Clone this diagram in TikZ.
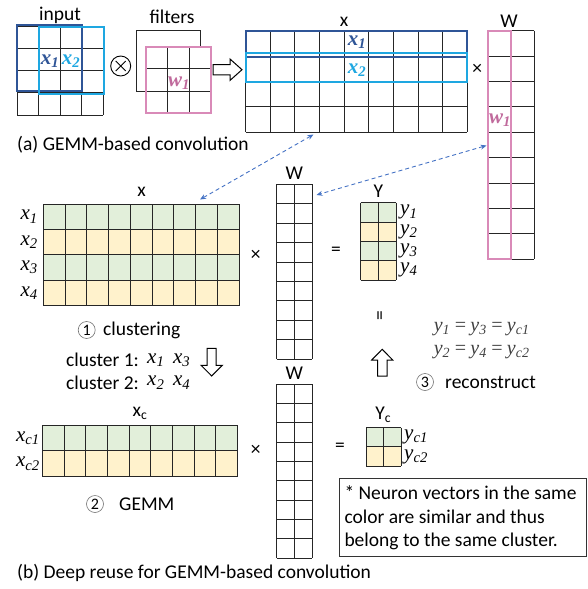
\documentclass[tikz,border=0pt]{standalone}
\usepackage{fontspec}
\setmainfont{Carlito}
\newfontfamily\tnr{Liberation Serif}
\usetikzlibrary{arrows.meta}
\definecolor{cgreen}{HTML}{E2EFDA}
\definecolor{cyellow}{HTML}{FFF2CC}
\definecolor{dblue}{HTML}{2F5597}
\definecolor{lblue}{HTML}{1EA7E1}
\definecolor{pinkc}{HTML}{D98AB8}
\definecolor{wpink}{HTML}{C06A9C}
\definecolor{arrowblue}{HTML}{4472C4}
\definecolor{eqgray}{HTML}{404040}
\newcommand\mgrid[6]{%
  \pgfmathsetmacro\gcw{(#3)/(#5)}%
  \pgfmathsetmacro\grh{(#4)/(#6)}%
  \foreach \k in {0,...,#5} {\draw[gridl] ({#1+\k*\gcw},#2) -- ++(0,#4);}%
  \foreach \k in {0,...,#6} {\draw[gridl] (#1,{#2+\k*\grh}) -- ++(#3,0);}%
}
\tikzset{
  gridl/.style={line width=1pt, draw=black!85},
  lab/.style={inner sep=0pt, font=\fontsize{19.5}{23}\selectfont},
  mlab/.style={inner sep=0pt, font=\fontsize{21}{24}\selectfont\tnr\itshape},
  eqlab/.style={inner sep=0pt, text=eqgray, font=\fontsize{20}{24}\selectfont\tnr\itshape},
  cnum/.style={circle, draw=black!55, line width=0.6pt, minimum size=17pt, inner sep=0pt, font=\fontsize{16}{18}\selectfont},
  dasharr/.style={draw=arrowblue, line width=0.9pt, dash pattern=on 4pt off 3pt, {Stealth[length=6pt,width=5pt]}-{Stealth[length=6pt,width=5pt]}},
  hollow/.style={draw=black, line width=1pt, fill=white},
}
\begin{document}
\begin{tikzpicture}[x=1pt,y=-1pt]
\useasboundingbox (0,0) rectangle (587,589);

% ---------------- (a) ----------------
\node[lab] (inputlab) at (60,15) {input};
\mgrid{17.3}{26}{86}{89}{4}{4}
\draw[draw=dblue, line width=2pt] (16.7,25) rectangle (81.7,90.7);
\draw[draw=lblue, line width=2pt] (39.3,26.7) rectangle (104,94);
\node[inner sep=0pt, text=dblue, font=\fontsize{21}{24}\selectfont\tnr\bfseries\itshape] (ix1) at (50,61) {x\textsubscript{1}};
\node[inner sep=0pt, text=lblue, font=\fontsize{21}{24}\selectfont\tnr\bfseries\itshape] (ix2) at (71,61) {x\textsubscript{2}};

\node[circle, draw=black, line width=0.9pt, minimum size=20pt, inner sep=0pt] (otimes) at (120.7,66) {};
\draw[line width=0.9pt] (otimes.center) ++(-5,-5) -- ++(10,10);
\draw[line width=0.9pt] (otimes.center) ++(-5,5) -- ++(10,-10);

\node[lab] (filtlab) at (172,17) {filters};
\draw[line width=1pt, draw=black!85] (136.7,30) rectangle (200.7,91.7);
\fill[white] (145.7,46.7) rectangle (211,113.3);
\mgrid{145.7}{46.7}{65.3}{66.6}{3}{3}
\draw[draw=pinkc, line width=2pt] (145.7,46.7) rectangle (211,113.3);
\node[inner sep=0pt, text=wpink, font=\fontsize{21}{24}\selectfont\tnr\bfseries\itshape] (fw1) at (179,83) {w\textsubscript{1}};

\draw[hollow] (213,64.5) -- (230,64.5) -- (230,59) -- (242,69.7) -- (230,80.4) -- (230,74.9) -- (213,74.9) -- cycle;

\node[lab] (xtoplab) at (344,22) {x};
\mgrid{245.7}{30.7}{221.6}{101.6}{9}{4}
\draw[draw=dblue, line width=2pt] (245.7,30.7) rectangle (467.3,56.7);
\draw[draw=lblue, line width=2pt] (245.7,53.3) rectangle (467.3,81.7);
\node[inner sep=0pt, text=dblue, font=\fontsize{21}{24}\selectfont\tnr\bfseries\itshape] (tx1) at (357,42.5) {x\textsubscript{1}};
\node[inner sep=0pt, text=lblue, font=\fontsize{21}{24}\selectfont\tnr\bfseries\itshape] (tx2) at (357,70) {x\textsubscript{2}};
\node[lab] (timesa) at (477.3,69) {×};

\node[lab] (wtoplab) at (509,21) {W};
\mgrid{487.7}{30.7}{46.3}{228.6}{2}{9}
\draw[draw=pinkc, line width=2pt] (487.7,30.7) rectangle (511.3,259.3);
\node[inner sep=0pt, text=wpink, font=\fontsize{21}{24}\selectfont\tnr\bfseries\itshape] (tw1) at (500,120) {w\textsubscript{1}};

\node[lab, anchor=west] (capa) at (17,145) {(a) GEMM-based convolution};

% ---------------- (b) ----------------
\node[lab] (xblab) at (141.7,192) {x};
\fill[cgreen] (43.3,204) rectangle (239,229.4);
\fill[cyellow] (43.3,229.4) rectangle (239,254.9);
\fill[cgreen] (43.3,254.9) rectangle (239,280.3);
\fill[cyellow] (43.3,280.3) rectangle (239,305.7);
\mgrid{43.3}{204}{195.7}{101.7}{9}{4}
\node[mlab, anchor=east] (rx1) at (38,216.7) {x\textsubscript{1}};
\node[mlab, anchor=east] (rx2) at (38,242.1) {x\textsubscript{2}};
\node[mlab, anchor=east] (rx3) at (38,267.5) {x\textsubscript{3}};
\node[mlab, anchor=east] (rx4) at (38,292.9) {x\textsubscript{4}};
\node[lab] (timesb) at (255.7,255) {×};

\node[lab] (wm1lab) at (294.3,173) {W};
\mgrid{276.7}{184.3}{35.6}{175}{2}{9}
\node[lab] (eq1) at (336,251) {=};

\node[lab] (ylab) at (378.3,191) {Y};
\fill[cgreen] (360.7,202.7) rectangle (396,222);
\fill[cyellow] (360.7,222) rectangle (396,241.3);
\fill[cgreen] (360.7,241.3) rectangle (396,260.7);
\fill[cyellow] (360.7,260.7) rectangle (396,280);
\mgrid{360.7}{202.7}{35.3}{77.3}{2}{4}
\node[mlab, anchor=west] (ry1) at (400,212.4) {y\textsubscript{1}};
\node[mlab, anchor=west] (ry2) at (400,231.7) {y\textsubscript{2}};
\node[mlab, anchor=west] (ry3) at (400,251) {y\textsubscript{3}};
\node[mlab, anchor=west] (ry4) at (400,270.3) {y\textsubscript{4}};

\node[lab, rotate=90] (veq) at (381.7,316) {=};
\draw[hollow] (377.5,376) -- (377.5,360) -- (371.7,360) -- (382.2,349.3) -- (392.7,360) -- (387,360) -- (387,376) -- cycle;

\node[eqlab] (eqa) at (481.7,329) {y\textsubscript{1}\,=\,y\textsubscript{3}\,=\,y\textsubscript{c1}};
\node[eqlab] (eqb) at (481.7,351.7) {y\textsubscript{2}\,=\,y\textsubscript{4}\,=\,y\textsubscript{c2}};
\node[cnum] (c3) at (425,382) {3};
\node[lab, anchor=west] (recon) at (445,382) {reconstruct};

\node[cnum] (c1) at (86.7,330) {1};
\node[lab, anchor=west] (clus) at (103,330) {clustering};
\node[lab, anchor=west] (cl1) at (66,360) {cluster 1:};
\node[mlab, anchor=west] (cl1v) at (147,360) {x\textsubscript{1}\ \,x\textsubscript{3}};
\node[lab, anchor=west] (cl2) at (66,382.7) {cluster 2:};
\node[mlab, anchor=west] (cl2v) at (147,382.7) {x\textsubscript{2}\ \,x\textsubscript{4}};
\draw[hollow] (207.2,348.3) -- (216.2,348.3) -- (216.2,365.3) -- (222.3,365.3) -- (211.7,376) -- (201.1,365.3) -- (207.2,365.3) -- cycle;

\node[lab] (xclab) at (140,413) {x\textsubscript{c}};
\fill[cgreen] (42.3,425) rectangle (237.7,450.9);
\fill[cyellow] (42.3,450.9) rectangle (237.7,476.7);
\mgrid{42.3}{425}{195.4}{51.7}{9}{2}
\node[mlab, anchor=east] (rxc1) at (40,438) {x\textsubscript{c1}};
\node[mlab, anchor=east] (rxc2) at (40,463.8) {x\textsubscript{c2}};
\node[lab] (timesc) at (255.7,450) {×};
\node[cnum] (c2) at (95,504) {2};
\node[lab, anchor=west] (gemm) at (119,504) {GEMM};

\node[lab] (wm2lab) at (294.3,373) {W};
\mgrid{276.7}{384.3}{35.6}{174}{2}{9}
\node[lab] (eq2) at (340,447) {=};

\node[lab] (yclab) at (383.3,415) {Y\textsubscript{c}};
\fill[cgreen] (366,427.7) rectangle (401,446.8);
\fill[cyellow] (366,446.8) rectangle (401,466);
\mgrid{366}{427.7}{35}{38.3}{2}{2}
\node[mlab, anchor=west] (ryc1) at (404,437.3) {y\textsubscript{c1}};
\node[mlab, anchor=west] (ryc2) at (404,456.5) {y\textsubscript{c2}};

\node[draw=black!80, line width=1pt, anchor=north west, minimum width=247pt, minimum height=77.7pt, inner sep=0pt] (note) at (339.3,478.3) {};
\node[anchor=west, inner sep=0pt, align=left, font=\fontsize{19.5}{23.6}\selectfont] (notetext) at (344.3,518) {* Neuron vectors in the same\\color are similar and thus\\belong to the same cluster.};

\node[lab, anchor=west] (capb) at (17,573) {(b) Deep reuse for GEMM-based convolution};

% dashed connectors
\coordinate (xtopbot) at (313.5,134.5);
\coordinate (xbtop) at (200,199.5);
\coordinate (wtopleft) at (486.5,145.5);
\coordinate (wmidtop) at (316.5,195);
\draw[dasharr] (xtopbot) -- (xbtop);
\draw[dasharr] (wtopleft) -- (wmidtop);
\end{tikzpicture}
\end{document}
